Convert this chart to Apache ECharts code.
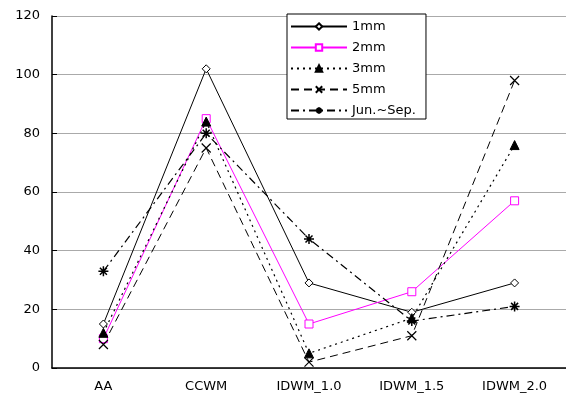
<!DOCTYPE html>
<html>
<head>
<meta charset="utf-8">
<script src="https://cdn.jsdelivr.net/npm/echarts@6/dist/echarts.min.js"></script>
<style>
  html, body { margin: 0; padding: 0; background: #fff; }
  #chart { width: 566px; height: 398px; }
</style>
</head>
<body>
<div id="chart"></div>
<script>
var categories = ['AA', 'CCWM', 'IDWM_1.0', 'IDWM_1.5', 'IDWM_2.0'];
var names = ['1mm', '2mm', '3mm', '5mm', 'Jun.~Sep.'];
var v1mm = [15, 102, 29, 19, 29];
var v2mm = [10, 85, 15, 26, 57];
var v3mm = [12, 84, 5, 17, 76];
var v5mm = [8, 75, 2, 11, 98];
var vJunSep = [33, 80, 44, 16, 21];

var xPath = 'path://M0,0L10,10M10,0L0,10';
var starPath = 'path://M5,0L5,10M0,5L10,5M1.5,1.5L8.5,8.5M8.5,1.5L1.5,8.5';

var chart = echarts.init(document.getElementById('chart'));
var option = {
  animation: false,
  textStyle: { fontFamily: 'DejaVu Sans, sans-serif' },
  grid: { left: 52, right: 0, top: 16, bottom: 30 },
  legend: {
    orient: 'vertical',
    left: 287,
    top: 14,
    width: 143,
    padding: [6, 10, 2, 3],
    itemGap: 8,
    itemWidth: 56,
    itemHeight: 8,
    borderColor: '#000',
    borderWidth: 1,
    backgroundColor: '#fff',
    textStyle: { fontSize: 13, color: '#000' },
    data: names
  },
  xAxis: {
    type: 'category',
    data: categories,
    boundaryGap: true,
    axisLine: { lineStyle: { color: '#000', width: 1.5 } },
    axisTick: { inside: true, length: 5, lineStyle: { color: '#000' } },
    axisLabel: { color: '#000', fontSize: 13, margin: 12 },
    splitLine: { show: false }
  },
  yAxis: {
    type: 'value',
    min: 0,
    max: 120,
    interval: 20,
    axisLine: { show: true, lineStyle: { color: '#000', width: 1.5 } },
    axisTick: { show: true, inside: true, length: 5, lineStyle: { color: '#000' } },
    axisLabel: { color: '#000', fontSize: 13, margin: 12 },
    splitLine: { lineStyle: { color: '#aaa', width: 1 } }
  },
  series: [
    {
      name: names[0], type: 'line', data: v1mm,
      symbol: 'diamond', symbolSize: 8,
      lineStyle: { color: '#000', width: 1, type: 'solid' },
      itemStyle: { color: '#fff', borderColor: '#000', borderWidth: 1 }
    },
    {
      name: names[1], type: 'line', data: v2mm,
      symbol: 'rect', symbolSize: 8,
      lineStyle: { color: '#ff00ff', width: 1, type: 'solid' },
      itemStyle: { color: '#fff', borderColor: '#ff00ff', borderWidth: 1 }
    },
    {
      name: names[2], type: 'line', data: v3mm,
      symbol: 'triangle', symbolSize: 9,
      lineStyle: { color: '#000', width: 1.2, type: [2, 4] },
      itemStyle: { color: '#000', borderColor: '#000', borderWidth: 1 }
    },
    {
      name: names[3], type: 'line', data: v5mm,
      symbol: xPath, symbolSize: 9,
      lineStyle: { color: '#000', width: 1, type: [8, 5] },
      itemStyle: { color: '#000', borderColor: '#000', borderWidth: 1.2 }
    },
    {
      name: names[4], type: 'line', data: vJunSep,
      symbol: starPath, symbolSize: 10,
      lineStyle: { color: '#000', width: 1.2, type: [8, 4, 2, 4] },
      itemStyle: { color: '#000', borderColor: '#000', borderWidth: 1.5 }
    }
  ]
};
chart.setOption(option);
</script>
</body>
</html>
